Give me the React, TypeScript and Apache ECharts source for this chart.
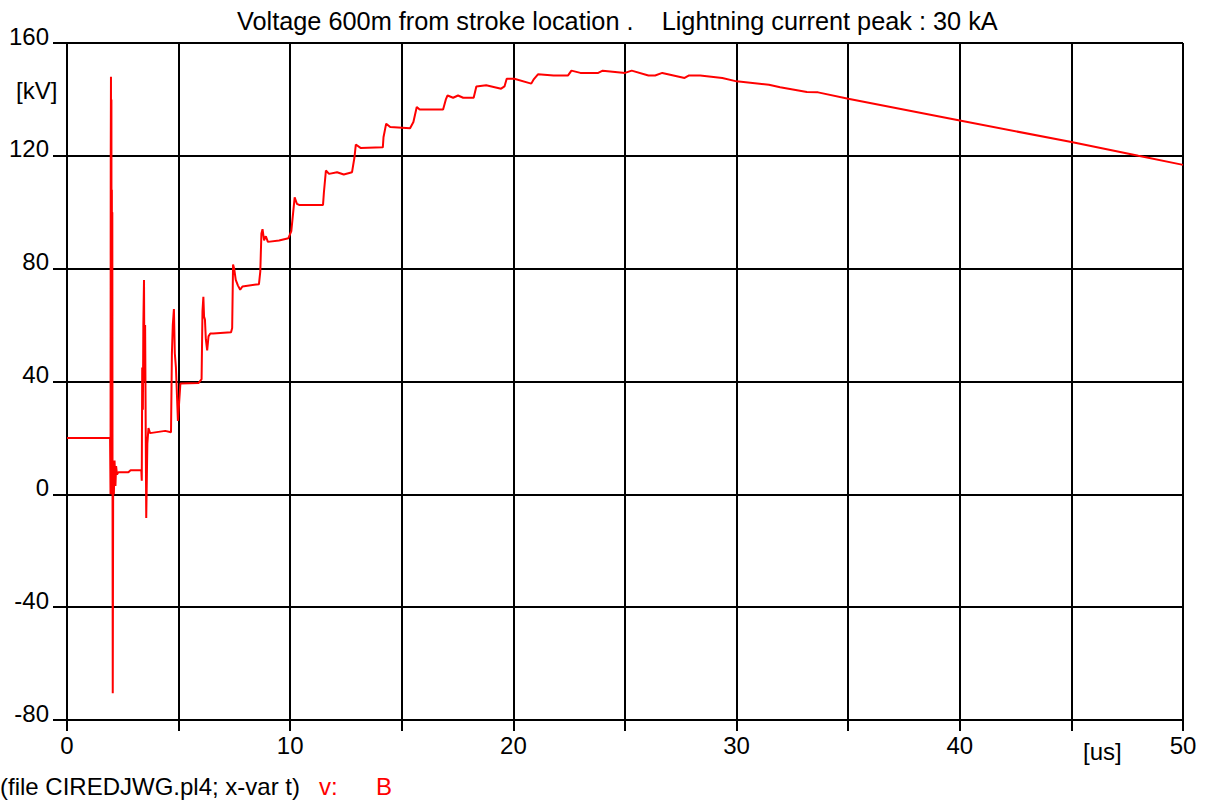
import React, { useEffect, useRef } from "react";
import * as echarts from "echarts";

const timeUs: number[] = [
  0, 1.93, 1.95, 1.96, 1.97, 1.98, 1.99, 2.0, 2.01, 2.02, 2.03, 2.04, 2.05, 2.07, 2.1, 2.13, 2.17, 2.2, 2.24, 2.3, 2.75, 2.85,
  3.33, 3.35, 3.37, 3.4, 3.42, 3.45, 3.47, 3.5, 3.55, 3.6, 3.65, 3.72, 4.4, 4.66, 4.7, 4.74, 4.79, 4.83, 4.88, 4.97, 5.08,
  5.9, 6.03, 6.07, 6.11, 6.14, 6.18, 6.22, 6.28, 6.34, 6.42, 6.55, 7.35, 7.4, 7.44, 7.49, 7.56, 7.66, 7.76,
  7.86, 8.6, 8.66, 8.71, 8.76, 8.83, 8.91, 9.0, 9.5, 9.92, 10.05, 10.2, 10.3, 10.4, 11.47, 11.51, 11.6, 11.74,
  12.1, 12.4, 12.77, 12.88, 12.94, 13.15, 14.15, 14.18, 14.3, 14.48, 15.37, 15.52, 15.67, 15.8, 16.85, 16.97,
  17.05, 17.3, 17.52, 17.75, 18.22, 18.34, 18.78, 19.45, 19.6, 19.7, 20.04, 20.8, 20.9, 21.1, 21.8, 22.45,
  22.6, 23.0, 23.8, 24.0, 25.0, 25.3, 26.05, 26.35, 26.67, 27.67, 27.87, 28.37, 29.36, 30.0, 31.45, 31.95,
  33.15, 33.65, 35.0, 40.0, 45.0, 48.0, 50.0,
];

const voltageKV: number[] = [
  20, 20, 0, 120, 148, 2, 140, 0, 108, 5, 100, 0, -70.5, 10, 0, 12, 3, 10, 7, 7.8, 7.8, 8.5,
  8.5, 4.8, 45, 30, 60, 76, 40, 60, -8.4, 18, 23.5, 21.7, 22.5, 22, 50, 60, 65.7, 50, 45, 26, 39.3,
  39.5, 40.8, 65, 70, 63, 62, 55, 51, 56, 57, 57, 57.5, 59, 81.5, 80, 76, 74, 72.5,
  73.7, 74.5, 79, 92.5, 94, 90, 91.5, 89.5, 90, 90.8, 93.3, 105.3, 103, 102.6, 102.6, 107, 114.8, 113.6,
  114.2, 113.4, 114.2, 119.5, 124, 122.8, 123, 126.6, 131.4, 130.2, 129.8, 132, 137.3, 136.4, 136.4, 139.9,
  141.4, 140.6, 141.4, 140.6, 140.6, 144.6, 145, 143.8, 144.6, 147.3, 147.3, 145.6, 147, 148.9, 148.5, 148.5,
  150.2, 149.4, 149.4, 150.2, 149.4, 150.2, 148.5, 148.5, 149.4, 147.6, 148.5, 148.5, 147.6, 146.4, 145.2, 144.3,
  142.6, 142.5, 140.2, 132.5, 124.9, 120, 116.8,
];

const xTickLabels: number[] = [0, 10, 20, 30, 40, 50];

const titleText = "Voltage 600m from stroke location .    Lightning current peak : 30 kA";
const footerText = "(file CIREDJWG.pl4; x-var t)";
const varLabel = "v:";
const seriesName = "B";

const FONT = "'Liberation Sans', Arial, sans-serif";

export default function App() {
  const ref = useRef<HTMLDivElement>(null);
  useEffect(() => {
    if (!ref.current) return;
    const chart = echarts.init(ref.current, undefined, { renderer: "svg" });
    const data = timeUs.map((t, i) => [t, voltageKV[i]]);
    chart.setOption({
      animation: false,
      backgroundColor: "#ffffff",
      textStyle: { fontFamily: FONT },
      grid: { left: 67, top: 43, right: 22, bottom: 81, containLabel: false },
      xAxis: {
        type: "value",
        min: 0,
        max: 50,
        interval: 5,
        axisLine: { show: true, onZero: false, lineStyle: { color: "#000", width: 2 } },
        axisTick: { show: true, length: 11, lineStyle: { color: "#000", width: 2 } },
        splitLine: { show: true, lineStyle: { color: "#000", width: 2 } },
        axisLabel: {
          color: "#000",
          fontSize: 24,
          fontFamily: FONT,
          margin: 13,
          showMinLabel: true,
          showMaxLabel: true,
          formatter: (v: number) => (xTickLabels.includes(v) ? String(v) : ""),
        },
      },
      yAxis: {
        type: "value",
        min: -80,
        max: 160,
        interval: 40,
        axisLine: { show: true, onZero: false, lineStyle: { color: "#000", width: 2 } },
        axisTick: { show: true, length: 14, lineStyle: { color: "#000", width: 2 } },
        splitLine: { show: true, lineStyle: { color: "#000", width: 2 } },
        axisLabel: {
          color: "#000",
          fontSize: 24,
          fontFamily: FONT,
          margin: 18,
          verticalAlign: "bottom",
          lineHeight: 24,
          padding: [0, 0, -5, 0],
        },
      },
      series: [
        {
          type: "line",
          name: seriesName,
          data,
          showSymbol: false,
          symbol: "none",
          lineStyle: { color: "#ff0000", width: 2 },
          itemStyle: { color: "#ff0000" },
        },
      ],
      graphic: [
        {
          type: "text",
          left: 237,
          top: 8,
          style: { text: titleText, font: `25.3px ${FONT}`, fill: "#000" },
        },
        {
          type: "text",
          left: 16,
          top: 78,
          style: { text: "[kV]", font: `24px ${FONT}`, fill: "#000" },
        },
        {
          type: "text",
          left: 1083,
          top: 739,
          style: { text: "[us]", font: `24px ${FONT}`, fill: "#000" },
        },
        {
          type: "text",
          left: 0,
          top: 774,
          style: { text: footerText, font: `24px ${FONT}`, fill: "#000" },
        },
        {
          type: "text",
          left: 319,
          top: 774,
          style: { text: varLabel, font: `24px ${FONT}`, fill: "#ff0000" },
        },
        {
          type: "text",
          left: 376,
          top: 774,
          style: { text: seriesName, font: `24px ${FONT}`, fill: "#ff0000" },
        },
      ],
    });
    return () => chart.dispose();
  }, []);
  return (
    <div
      ref={ref}
      style={{ position: "fixed", left: 0, top: 0, width: 1205, height: 801, background: "#fff" }}
    />
  );
}
